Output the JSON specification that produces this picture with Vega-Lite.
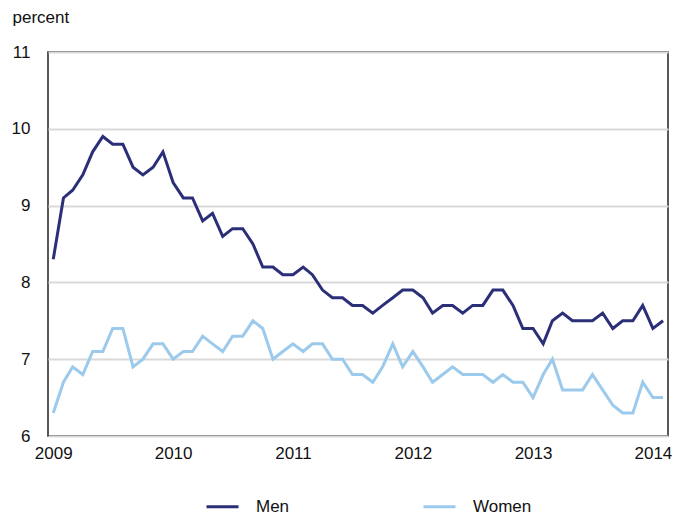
{
  "$schema": "https://vega.github.io/schema/vega-lite/v6.json",
  "width": 620,
  "height": 384,
  "autosize": {"type": "none"},
  "padding": {"left": 48, "top": 52, "right": 10, "bottom": 80},
  "background": "white",
  "config": {
    "font": "Liberation Sans",
    "view": {"stroke": "#222222", "strokeWidth": 1.5}
  },
  "data": {
    "values": [
      {"date": "2009-01-01", "Men": 8.3, "Women": 6.3},
      {"date": "2009-02-01", "Men": 9.1, "Women": 6.7},
      {"date": "2009-03-01", "Men": 9.2, "Women": 6.9},
      {"date": "2009-04-01", "Men": 9.4, "Women": 6.8},
      {"date": "2009-05-01", "Men": 9.7, "Women": 7.1},
      {"date": "2009-06-01", "Men": 9.9, "Women": 7.1},
      {"date": "2009-07-01", "Men": 9.8, "Women": 7.4},
      {"date": "2009-08-01", "Men": 9.8, "Women": 7.4},
      {"date": "2009-09-01", "Men": 9.5, "Women": 6.9},
      {"date": "2009-10-01", "Men": 9.4, "Women": 7.0},
      {"date": "2009-11-01", "Men": 9.5, "Women": 7.2},
      {"date": "2009-12-01", "Men": 9.7, "Women": 7.2},
      {"date": "2010-01-01", "Men": 9.3, "Women": 7.0},
      {"date": "2010-02-01", "Men": 9.1, "Women": 7.1},
      {"date": "2010-03-01", "Men": 9.1, "Women": 7.1},
      {"date": "2010-04-01", "Men": 8.8, "Women": 7.3},
      {"date": "2010-05-01", "Men": 8.9, "Women": 7.2},
      {"date": "2010-06-01", "Men": 8.6, "Women": 7.1},
      {"date": "2010-07-01", "Men": 8.7, "Women": 7.3},
      {"date": "2010-08-01", "Men": 8.7, "Women": 7.3},
      {"date": "2010-09-01", "Men": 8.5, "Women": 7.5},
      {"date": "2010-10-01", "Men": 8.2, "Women": 7.4},
      {"date": "2010-11-01", "Men": 8.2, "Women": 7.0},
      {"date": "2010-12-01", "Men": 8.1, "Women": 7.1},
      {"date": "2011-01-01", "Men": 8.1, "Women": 7.2},
      {"date": "2011-02-01", "Men": 8.2, "Women": 7.1},
      {"date": "2011-03-01", "Men": 8.1, "Women": 7.2},
      {"date": "2011-04-01", "Men": 7.9, "Women": 7.2},
      {"date": "2011-05-01", "Men": 7.8, "Women": 7.0},
      {"date": "2011-06-01", "Men": 7.8, "Women": 7.0},
      {"date": "2011-07-01", "Men": 7.7, "Women": 6.8},
      {"date": "2011-08-01", "Men": 7.7, "Women": 6.8},
      {"date": "2011-09-01", "Men": 7.6, "Women": 6.7},
      {"date": "2011-10-01", "Men": 7.7, "Women": 6.9},
      {"date": "2011-11-01", "Men": 7.8, "Women": 7.2},
      {"date": "2011-12-01", "Men": 7.9, "Women": 6.9},
      {"date": "2012-01-01", "Men": 7.9, "Women": 7.1},
      {"date": "2012-02-01", "Men": 7.8, "Women": 6.9},
      {"date": "2012-03-01", "Men": 7.6, "Women": 6.7},
      {"date": "2012-04-01", "Men": 7.7, "Women": 6.8},
      {"date": "2012-05-01", "Men": 7.7, "Women": 6.9},
      {"date": "2012-06-01", "Men": 7.6, "Women": 6.8},
      {"date": "2012-07-01", "Men": 7.7, "Women": 6.8},
      {"date": "2012-08-01", "Men": 7.7, "Women": 6.8},
      {"date": "2012-09-01", "Men": 7.9, "Women": 6.7},
      {"date": "2012-10-01", "Men": 7.9, "Women": 6.8},
      {"date": "2012-11-01", "Men": 7.7, "Women": 6.7},
      {"date": "2012-12-01", "Men": 7.4, "Women": 6.7},
      {"date": "2013-01-01", "Men": 7.4, "Women": 6.5},
      {"date": "2013-02-01", "Men": 7.2, "Women": 6.8},
      {"date": "2013-03-01", "Men": 7.5, "Women": 7.0},
      {"date": "2013-04-01", "Men": 7.6, "Women": 6.6},
      {"date": "2013-05-01", "Men": 7.5, "Women": 6.6},
      {"date": "2013-06-01", "Men": 7.5, "Women": 6.6},
      {"date": "2013-07-01", "Men": 7.5, "Women": 6.8},
      {"date": "2013-08-01", "Men": 7.6, "Women": 6.6},
      {"date": "2013-09-01", "Men": 7.4, "Women": 6.4},
      {"date": "2013-10-01", "Men": 7.5, "Women": 6.3},
      {"date": "2013-11-01", "Men": 7.5, "Women": 6.3},
      {"date": "2013-12-01", "Men": 7.7, "Women": 6.7},
      {"date": "2014-01-01", "Men": 7.4, "Women": 6.5},
      {"date": "2014-02-01", "Men": 7.5, "Women": 6.5}
    ]
  },
  "transform": [{"fold": ["Men", "Women"], "as": ["series", "value"]}],
  "mark": {"type": "line", "strokeWidth": 3},
  "encoding": {
    "x": {
      "field": "date",
      "type": "temporal",
      "scale": {
        "type": "utc",
        "domain": [
          {"year": 2008, "month": 12, "date": 16, "utc": true},
          {"year": 2014, "month": 2, "date": 16, "utc": true}
        ]
      },
      "axis": {
        "title": null,
        "values": [
          {"year": 2009, "month": 1, "date": 1, "utc": true},
          {"year": 2010, "month": 1, "date": 1, "utc": true},
          {"year": 2011, "month": 1, "date": 1, "utc": true},
          {"year": 2012, "month": 1, "date": 1, "utc": true},
          {"year": 2013, "month": 1, "date": 1, "utc": true},
          {"year": 2014, "month": 1, "date": 1, "utc": true}
        ],
        "format": "%Y",
        "grid": false,
        "domain": false,
        "ticks": false,
        "tickSize": 0,
        "labelPadding": 9,
        "labelFontSize": 17,
        "labelColor": "#111111",
        "labelFlush": false
      }
    },
    "y": {
      "field": "value",
      "type": "quantitative",
      "scale": {"domain": [6, 11], "nice": false, "zero": false},
      "axis": {
        "values": [6, 7, 8, 9, 10, 11],
        "title": "percent",
        "titleAngle": 0,
        "titleAlign": "left",
        "titleBaseline": "alphabetic",
        "titleX": -36,
        "titleY": -30,
        "titleFontSize": 17,
        "titleFontWeight": "normal",
        "titleColor": "#111111",
        "labelFontSize": 17,
        "labelColor": "#111111",
        "labelPadding": 18,
        "ticks": false,
        "tickSize": 0,
        "domain": false,
        "gridColor": "#d9d9d9",
        "gridWidth": 2
      }
    },
    "color": {
      "field": "series",
      "type": "nominal",
      "scale": {"domain": ["Men", "Women"], "range": ["#2b2f78", "#9ccaec"]},
      "legend": {
        "title": null,
        "orient": "none",
        "legendX": 157,
        "legendY": 437,
        "direction": "horizontal",
        "symbolType": "stroke",
        "symbolSize": 1024,
        "symbolStrokeWidth": 3,
        "labelFontSize": 17,
        "labelColor": "#111111",
        "labelOffset": 16,
        "columnPadding": 127
      }
    }
  }
}
